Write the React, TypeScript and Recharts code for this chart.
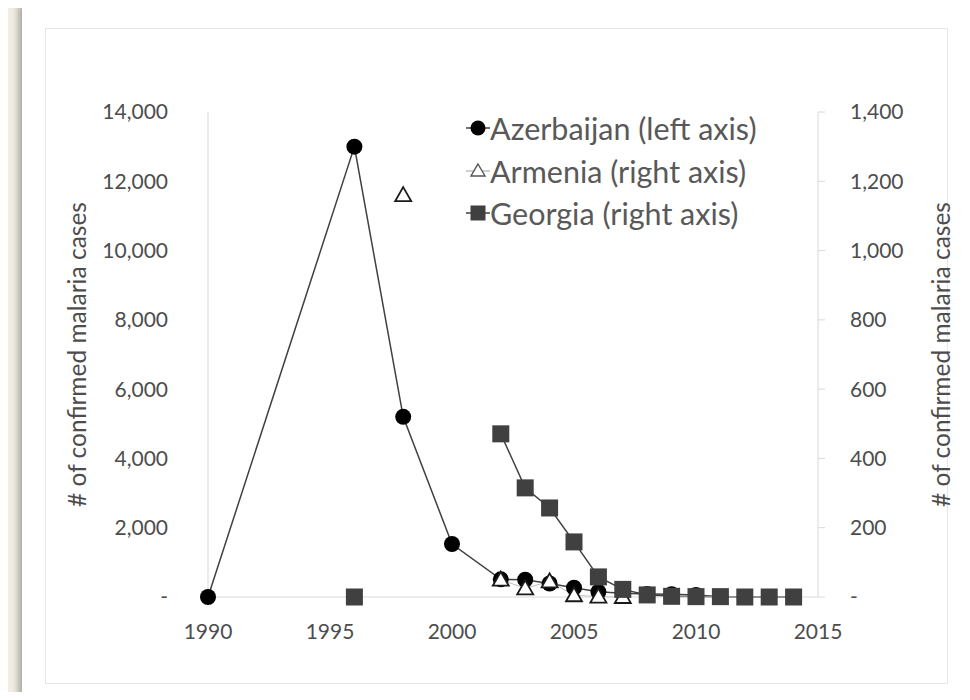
import { LineChart, Line, XAxis, YAxis, Legend } from 'recharts';

// years with at least one reported value
const years = [1990, 1996, 1998, 2000, 2002, 2003, 2004, 2005, 2006, 2007, 2008, 2009, 2010, 2011, 2012, 2013, 2014];

// confirmed malaria cases (Azerbaijan on left axis, Armenia/Georgia on right axis)
const azerbaijan = [0, 13000, 5200, 1530, 510, 500, 390, 270, 150, 110, 90, 80, 60, 5, 3, 0, 0];
const armenia = [null, null, 1160, null, 50, 25, 45, 5, 1, 0, null, null, null, null, null, null, null];
const georgia = [null, 0, null, null, 471, 315, 257, 159, 58, 22, 6, 2, 1, 1, 0, 0, 0];

const xTicks = [1990, 1995, 2000, 2005, 2010, 2015];
const leftTicks = [0, 2000, 4000, 6000, 8000, 10000, 12000, 14000];
const rightTicks = [0, 200, 400, 600, 800, 1000, 1200, 1400];

const seriesNames = ['Azerbaijan (left axis)', 'Armenia (right axis)', 'Georgia (right axis)'];
const axisTitle = '# of confirmed malaria cases';

const data = years.map((year, i) => ({
  year,
  azerbaijan: azerbaijan[i],
  armenia: armenia[i],
  georgia: georgia[i],
}));

const FONT = "Lato, 'Open Sans', sans-serif";
const TEXT = '#4d4d4d';
const AXIS = '#d9d9d9';

const fmt = (v: number) => (v === 0 ? '-' : v.toLocaleString('en-US'));

const CircleDot = (props: any) => {
  const { cx, cy, index } = props;
  if (cx == null || cy == null || props.value == null) return <g key={`c${index}`} />;
  return <circle key={`c${index}`} cx={cx} cy={cy} r={8} fill="#000" />;
};

const TriangleDot = (props: any) => {
  const { cx, cy, index } = props;
  if (cx == null || cy == null || props.value == null) return <g key={`t${index}`} />;
  const s = 8;
  return (
    <polygon
      key={`t${index}`}
      points={`${cx},${cy - s} ${cx + s},${cy + s * 0.75} ${cx - s},${cy + s * 0.75}`}
      fill="#fff"
      stroke="#1a1a1a"
      strokeWidth={1.8}
    />
  );
};

const SquareDot = (props: any) => {
  const { cx, cy, index } = props;
  if (cx == null || cy == null || props.value == null) return <g key={`s${index}`} />;
  return <rect key={`s${index}`} x={cx - 8.5} y={cy - 8.5} width={17} height={17} fill="#404040" />;
};

const AxisTitle = (props: any) => {
  const { viewBox, side } = props;
  const x = side === 'left' ? viewBox.x - 52 : viewBox.x + 122;
  const y = viewBox.y + viewBox.height / 2;
  return (
    <text
      transform={`translate(${x}, ${y}) rotate(-90)`}
      textAnchor="middle"
      dominantBaseline="central"
      fill={TEXT}
      fontFamily={FONT}
      fontSize={24.5}
    >
      {axisTitle}
    </text>
  );
};

function LegendIcon({ kind }: { kind: number }) {
  return (
    <svg width={24} height={24} style={{ display: 'block' }}>
      <line x1={0} y1={12} x2={24} y2={12} stroke={kind === 1 ? '#bfbfbf' : '#404040'} strokeWidth={1.5} />
      {kind === 0 && <circle cx={12} cy={12} r={7.5} fill="#000" />}
      {kind === 1 && <polygon points="12,5 19,17 5,17" fill="#fff" stroke="#555" strokeWidth={1.4} />}
      {kind === 2 && <rect x={4.5} y={4.5} width={15} height={15} fill="#404040" />}
    </svg>
  );
}

const renderLegend = () => (
  <div style={{ fontFamily: FONT, fontSize: 30.5, color: '#595959' }}>
    {seriesNames.map((name, i) => (
      <div key={name} style={{ display: 'flex', alignItems: 'center', height: 42.5 }}>
        <LegendIcon kind={i} />
        <span style={{ lineHeight: 1 }}>{name}</span>
      </div>
    ))}
  </div>
);

export default function App() {
  return (
    <div
      style={{
        position: 'relative',
        width: 970,
        height: 700,
        margin: -8,
        overflow: 'hidden',
        background: '#f1ede4',
      }}
    >
      <div
        style={{
          position: 'absolute',
          left: 22,
          top: 5,
          width: 941,
          height: 720,
          background: '#fff',
          boxShadow: '-4px 0 6px rgba(0,0,0,0.28), 2px 0 2px rgba(0,0,0,0.15)',
        }}
      />
      <div
        style={{
          position: 'absolute',
          left: 45,
          top: 28,
          width: 901,
          height: 654,
          border: '1px solid #e6e6e6',
        }}
      />
      <div style={{ position: 'absolute', left: 0, top: 0 }}>
        <LineChart width={970} height={700} data={data} margin={{ top: 112, right: 72, bottom: 53, left: 128 }}>
          <XAxis
            dataKey="year"
            type="number"
            domain={[1990, 2015]}
            ticks={xTicks}
            axisLine={{ stroke: AXIS }}
            tickLine={false}
            tickSize={0}
            tickMargin={27}
            height={50}
            tick={{ fill: TEXT, fontSize: 21, fontFamily: FONT }}
          />
          <YAxis
            yAxisId="left"
            orientation="left"
            domain={[0, 14000]}
            ticks={leftTicks}
            tickFormatter={fmt}
            width={80}
            axisLine={{ stroke: AXIS }}
            tickLine={false}
            tickSize={0}
            tickMargin={40}
            tick={{ fill: TEXT, fontSize: 21, fontFamily: FONT }}
            label={<AxisTitle side="left" />}
          />
          <YAxis
            yAxisId="right"
            orientation="right"
            domain={[0, 1400]}
            ticks={rightTicks}
            tickFormatter={fmt}
            width={80}
            axisLine={{ stroke: AXIS }}
            tickLine={{ stroke: AXIS }}
            tickSize={7}
            tickMargin={25}
            tick={{ fill: TEXT, fontSize: 21, fontFamily: FONT }}
            label={<AxisTitle side="right" />}
          />
          <Line
            yAxisId="left"
            dataKey="azerbaijan"
            stroke="#404040"
            strokeWidth={1.5}
            dot={CircleDot}
            activeDot={false}
            isAnimationActive={false}
          />
          <Line
            yAxisId="right"
            dataKey="armenia"
            stroke="#bfbfbf"
            strokeWidth={1}
            dot={TriangleDot}
            activeDot={false}
            isAnimationActive={false}
          />
          <Line
            yAxisId="right"
            dataKey="georgia"
            stroke="#404040"
            strokeWidth={1.5}
            dot={SquareDot}
            activeDot={false}
            isAnimationActive={false}
          />
          <Legend
            layout="vertical"
            align="center"
            verticalAlign="middle"
            content={renderLegend}
            wrapperStyle={{ left: 466, top: 107, width: 360, height: 130 }}
          />
        </LineChart>
      </div>
    </div>
  );
}
